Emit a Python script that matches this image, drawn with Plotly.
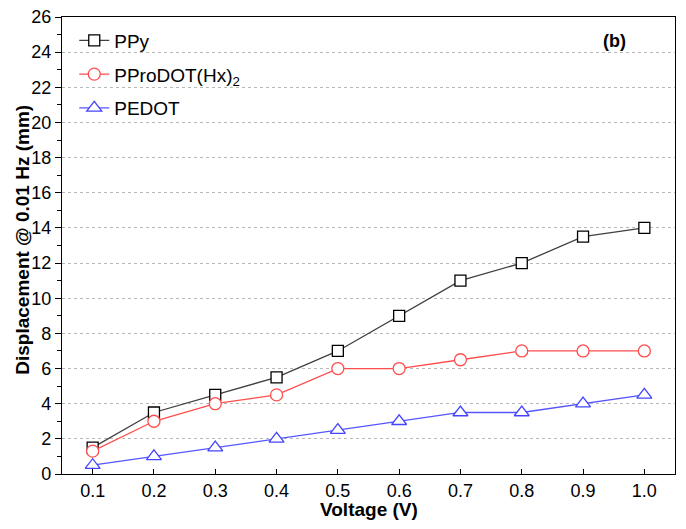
import plotly.graph_objects as go

voltage = [0.1, 0.2, 0.3, 0.4, 0.5, 0.6, 0.7, 0.8, 0.9, 1.0]
ppy = [1.5, 3.5, 4.5, 5.5, 7, 9, 11, 12, 13.5, 14]
pprodot = [1.3, 3, 4, 4.5, 6, 6, 6.5, 7, 7, 7]
pedot = [0.5, 1, 1.5, 2, 2.5, 3, 3.5, 3.5, 4, 4.5]
x_ticks = [0.1, 0.2, 0.3, 0.4, 0.5, 0.6, 0.7, 0.8, 0.9, 1.0]
x_ticklabels = ["0.1", "0.2", "0.3", "0.4", "0.5", "0.6", "0.7", "0.8", "0.9", "1.0"]

fig = go.Figure()
fig.add_trace(go.Scatter(x=voltage, y=ppy, name="PPy", mode="lines+markers", legendgroup="a",
                         line=dict(color="#404040", width=1.3),
                         marker=dict(symbol="square", size=11, color="white", line=dict(color="#000000", width=1.3))))
fig.add_trace(go.Scatter(x=voltage, y=pprodot, name="PProDOT(Hx)<sub>2</sub>", mode="lines+markers", legendgroup="b",
                         line=dict(color="#ff4d4d", width=1.3),
                         marker=dict(symbol="circle", size=12, color="white", line=dict(color="#ff4d4d", width=1.3))))
fig.add_trace(go.Scatter(x=voltage, y=pedot, name="PEDOT", mode="lines+markers", legendgroup="c",
                         line=dict(color="#5555ff", width=1.3),
                         marker=dict(symbol="triangle-up", size=13, color="white", line=dict(color="#4444ff", width=1.3))))

font = "Liberation Sans, Arial, sans-serif"
fig.update_layout(
    width=686, height=529,
    margin=dict(l=62, r=11, t=17, b=55),
    paper_bgcolor="white", plot_bgcolor="white",
    font=dict(family=font, size=18, color="black"),
    showlegend=True,
    legend=dict(x=0.02, y=0.99, xanchor="left", yanchor="top", bgcolor="rgba(0,0,0,0)",
                font=dict(size=19), tracegroupgap=6, traceorder="grouped"),
    xaxis=dict(range=[0.05, 1.05], tickvals=x_ticks, ticktext=x_ticklabels,
               ticks="inside", ticklen=5, tickwidth=1, tickcolor="black",
               showline=True, linecolor="black", linewidth=1.3, mirror=True,
               showgrid=False, zeroline=False, automargin=False,
               tickfont=dict(size=18)),
    yaxis=dict(range=[0, 26], dtick=2, tick0=0,
               ticks="outside", ticklen=6, tickwidth=1, tickcolor="black",
               minor=dict(dtick=1, ticks="outside", ticklen=4, tickcolor="black", showgrid=False),
               showline=True, linecolor="black", linewidth=1.3, mirror=True,
               showgrid=True, gridcolor="#b8b8b8", griddash="dot", gridwidth=1,
               zeroline=False, automargin=False,
               tickfont=dict(size=18)),
)
fig.add_annotation(text="<b>Voltage (V)</b>", xref="paper", yref="paper", x=0.5, y=-0.078,
                   showarrow=False, font=dict(size=19, family=font), xanchor="center", yanchor="middle")
fig.add_annotation(text="<b>Displacement @ 0.01 Hz (mm)</b>", xref="paper", yref="paper", x=-0.065, y=0.513,
                   showarrow=False, textangle=-90, font=dict(size=19, family=font), xanchor="center", yanchor="middle")
fig.add_annotation(text="<b>(b)</b>", xref="paper", yref="paper", x=0.902, y=0.948,
                   showarrow=False, font=dict(size=18, family=font), xanchor="center", yanchor="middle")

fig.write_html("out.html")
